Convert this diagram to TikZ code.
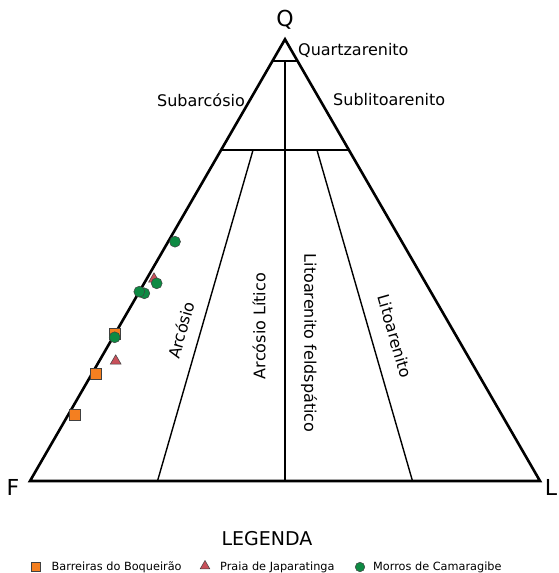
\documentclass[tikz,border=0pt]{standalone}
\usepackage{fontspec}
\setmainfont{DejaVu Sans}
\usetikzlibrary{calc,shapes.geometric}
\definecolor{sqorange}{HTML}{F47F20}
\definecolor{trired}{HTML}{C8505A}
\definecolor{cgreen}{HTML}{0E8A43}
\tikzset{
  outerline/.style={line width=2.6pt},
  midline/.style={line width=1.9pt},
  divline/.style={line width=1.4pt},
  field/.style={font=\fontsize{16}{19}\selectfont, inner sep=0pt},
  corner/.style={font=\fontsize{22}{26}\selectfont, inner sep=0pt},
  sq/.style={draw=black!75, line width=0.5pt, fill=sqorange, rectangle, minimum size=11pt, inner sep=0pt},
  tri/.style={draw=black!75, line width=0.5pt, fill=trired, regular polygon, regular polygon sides=3, minimum size=12.5pt, inner sep=0pt},
  dot/.style={draw=black!75, line width=0.5pt, fill=cgreen, circle, minimum size=11pt, inner sep=0pt},
  lsq/.style={sq, minimum size=9pt},
  ltri/.style={tri, minimum size=11pt},
  ldot/.style={dot, minimum size=9.5pt},
  legtext/.style={font=\fontsize{11.3}{13}\selectfont, inner sep=0pt, anchor=west}
}
\begin{document}
\begin{tikzpicture}[x=1pt,y=-1pt]
\useasboundingbox (0,0) rectangle (558,573);
\coordinate (F) at (30,481);
\coordinate (L) at (540,481);
\coordinate (Q) at (285,39.3);
% key points
\coordinate (q95l) at ($(F)!0.95!(Q)$);
\coordinate (q95r) at ($(L)!0.95!(Q)$);
\coordinate (q95m) at ($(q95l)!0.5!(q95r)$);
\coordinate (q75l) at ($(F)!0.75!(Q)$);
\coordinate (q75r) at ($(L)!0.75!(Q)$);
\coordinate (b1) at ($(F)!0.25!(L)$);
\coordinate (b2) at ($(F)!0.5!(L)$);
\coordinate (b3) at ($(F)!0.75!(L)$);
\coordinate (t1) at ($(Q)!0.25!(b1)$);
\coordinate (t3) at ($(Q)!0.25!(b3)$);
% inner lines
\draw[midline] (q95l) -- (q95r);
\draw[midline] (q75l) -- (q75r);
\draw[midline] (q95m) -- (b2);
\draw[divline] (t1) -- (b1);
\draw[divline] (t3) -- (b3);
\draw[outerline] (F) -- (Q) -- (L) -- cycle;
% corner labels
\node[corner] (lq) at (285,20) {Q};
\node[corner] (lf) at (13,487) {F};
\node[corner] (ll) at (551,487) {L};
% field labels
\node[field, anchor=west] (quartz) at (298,50) {Quartzarenito};
\node[field] (subarc) at (201,100) {Subarcósio};
\node[field, anchor=west] (sublito) at (333,100) {Sublitoarenito};
\node[field, rotate=74] (arc) at (181,330) {Arcósio};
\node[field, rotate=90] (arclit) at (259,326) {Arcósio Lítico};
\node[field, rotate=-90] (litfeld) at (309,343) {Litoarenito feldspático};
\node[field, rotate=-74] (lito) at (395,336) {Litoarenito};
% data points
\node[sq] (s1) at (115,334) {};
\node[sq] (s2) at (96,373.3) {};
\node[sq] (s3) at (74.3,414.3) {};
\node[tri] (t1p) at (154,279) {};
\node[tri] (t2p) at (115.7,361) {};
\node[dot] (c1) at (175,241.7) {};
\node[dot] (c2) at (156.7,283.3) {};
\node[dot] (c3) at (144.3,293.3) {};
\node[dot] (c4) at (139.3,291.7) {};
\node[dot] (c5) at (114.7,337.3) {};
% legend
\node[font=\fontsize{19}{22}\selectfont, inner sep=0pt] (leg) at (267,539) {LEGENDA};
\node[lsq] (ls) at (36,567) {};
\node[legtext] (lst) at (51.5,567) {Barreiras do Boqueirão};
\node[ltri] (lt) at (205,566) {};
\node[legtext] (ltt) at (220,567) {Praia de Japaratinga};
\node[ldot] (lc) at (360,567) {};
\node[legtext] (lct) at (373,567) {Morros de Camaragibe};
\end{tikzpicture}
\end{document}
